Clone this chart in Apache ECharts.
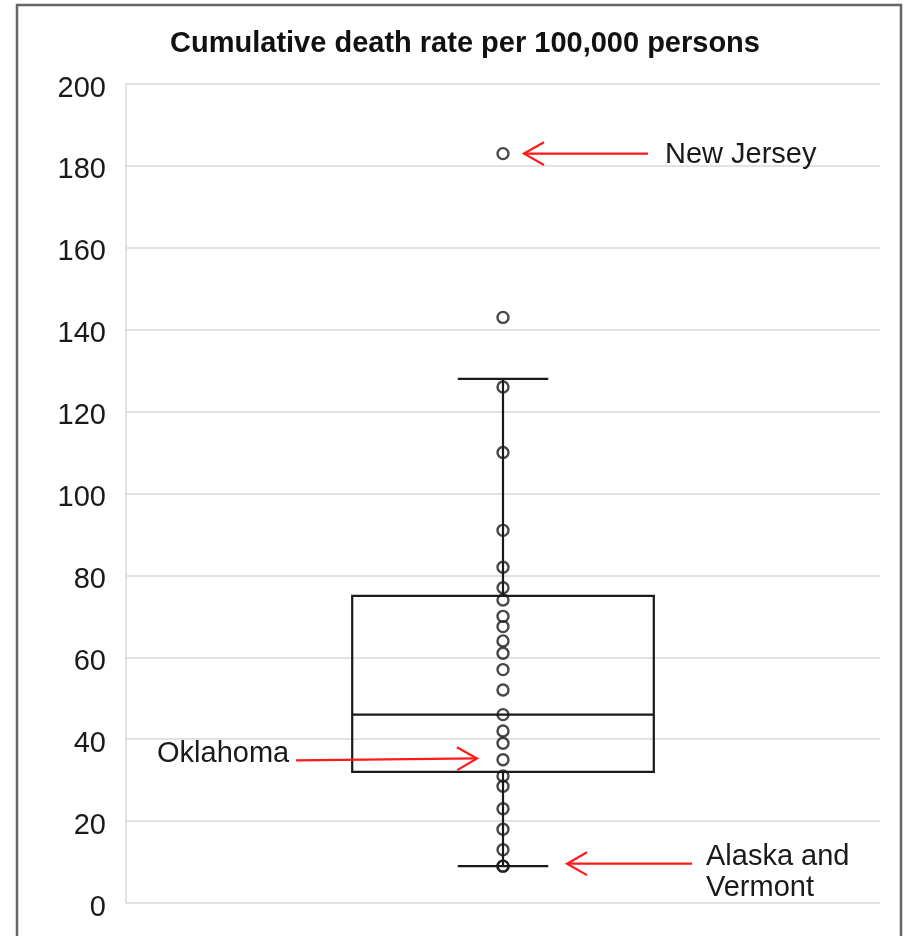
<!DOCTYPE html>
<html>
<head>
<meta charset="utf-8">
<script src="https://cdn.jsdelivr.net/npm/echarts@6/dist/echarts.min.js"></script>
<style>
html,body{margin:0;padding:0;background:#fff;}
#chart{width:905px;height:936px;}
</style>
</head>
<body>
<div id="chart"></div>
<script>
// ---- data ----
const titleText = 'Cumulative death rate per 100,000 persons';
const categories = ['States'];
const yTicks = [0, 20, 40, 60, 80, 100, 120, 140, 160, 180, 200];
// [lower whisker, Q1, median, Q3, upper whisker]
const boxStats = [9, 32, 46, 75, 128];
const stateRates = [126, 110, 91, 82, 77, 74, 70, 67.5, 64, 61, 57, 52, 46, 42, 39, 35, 31, 28.5, 23, 18, 13, 9, 9];
const outlierRates = [183, 143];
const annotationTexts = ['New Jersey', 'Oklahoma', 'Alaska and\nVermont'];
const annotationValues = [183, 35.3, 9.6];

const chart = echarts.init(document.getElementById('chart'), null, {renderer: 'canvas'});
const FONT = '"Liberation Sans", Arial, sans-serif';

const option = {
  backgroundColor: '#fff',
  animation: false,
  title: {
    text: titleText,
    left: 460,
    textAlign: 'center',
    top: 24,
    textStyle: {fontFamily: FONT, fontSize: 29, fontWeight: 'bold', color: '#111'}
  },
  grid: {left: 126, right: 25, top: 84, bottom: 33},
  xAxis: {
    type: 'category',
    data: categories,
    axisLine: {show: false},
    axisTick: {show: false},
    axisLabel: {show: false},
    splitLine: {show: false}
  },
  yAxis: {
    type: 'value',
    min: yTicks[0],
    max: yTicks[yTicks.length - 1],
    interval: yTicks[1] - yTicks[0],
    axisLine: {show: true, lineStyle: {color: '#d9d9d9', width: 1.5}},
    axisTick: {show: false},
    axisLabel: {
      margin: 20,
      verticalAlign: 'top',
      lineHeight: 9,
      fontFamily: FONT, fontSize: 29, color: '#1a1a1a'
    },
    splitLine: {show: true, lineStyle: {color: '#d9d9d9', width: 1.5}}
  },
  series: [
    {
      type: 'custom',
      z: 2,
      data: [[0].concat(boxStats)],
      renderItem: function (params, api) {
        const xi = api.value(0);
        const lo = api.coord([xi, api.value(1)]);
        const q1 = api.coord([xi, api.value(2)]);
        const md = api.coord([xi, api.value(3)]);
        const q3 = api.coord([xi, api.value(4)]);
        const hi = api.coord([xi, api.value(5)]);
        const band = api.size([1, 0])[0];
        const half = band * 0.2;
        const cap = band * 0.06;
        const cx = lo[0];
        const st = {stroke: '#1a1a1a', lineWidth: 2.2, fill: null};
        return {
          type: 'group',
          children: [
            {type: 'line', shape: {x1: cx, y1: hi[1], x2: cx, y2: q3[1]}, style: st},
            {type: 'line', shape: {x1: cx, y1: q1[1], x2: cx, y2: lo[1]}, style: st},
            {type: 'line', shape: {x1: cx - cap, y1: hi[1], x2: cx + cap, y2: hi[1]}, style: st},
            {type: 'line', shape: {x1: cx - cap, y1: lo[1], x2: cx + cap, y2: lo[1]}, style: st},
            {type: 'rect', shape: {x: cx - half, y: q3[1], width: half * 2, height: q1[1] - q3[1]}, style: {stroke: '#1a1a1a', lineWidth: 2.2, fill: 'transparent'}},
            {type: 'line', shape: {x1: cx - half, y1: md[1], x2: cx + half, y2: md[1]}, style: st}
          ]
        };
      }
    },
    {
      type: 'scatter',
      z: 3,
      symbol: 'circle',
      symbolSize: 11,
      itemStyle: {color: 'transparent', borderColor: '#1a1a1a', borderWidth: 2.4},
      data: stateRates.concat(outlierRates).map(v => [0, v])
    }
  ]
};
chart.setOption(option);

// ---- annotations (red arrows), anchored on data values through the y scale ----
const red = '#ff1a1a';
function yPix(v) { return chart.convertToPixel({yAxisIndex: 0}, v); }
function arrow(x1, y1, x2, y2) {
  const ang = Math.atan2(y2 - y1, x2 - x1);
  const L = 23, a = 0.52;
  const p1 = [x2 - L * Math.cos(ang - a), y2 - L * Math.sin(ang - a)];
  const p2 = [x2 - L * Math.cos(ang + a), y2 - L * Math.sin(ang + a)];
  return [
    {type: 'line', shape: {x1: x1, y1: y1, x2: x2, y2: y2}, style: {stroke: red, lineWidth: 2.2}, z: 10},
    {type: 'polyline', shape: {points: [p1, [x2, y2], p2]}, style: {stroke: red, lineWidth: 2.2, fill: null}, z: 10}
  ];
}
const textStyle = {fontFamily: FONT, fontSize: 29, fill: '#1a1a1a', textVerticalAlign: 'middle'};
const yNJ = yPix(annotationValues[0]);
const yOK = yPix(annotationValues[1]);
const yAK = yPix(annotationValues[2]);
let g = [];
g.push({type: 'rect', shape: {x: 17, y: 5, width: 884, height: 1000}, style: {stroke: '#666', lineWidth: 2.5, fill: null}, z: 20, silent: true});
g = g.concat(arrow(648, yNJ, 524, yNJ));
g.push({type: 'text', x: 665, y: yNJ + 1, style: Object.assign({text: annotationTexts[0]}, textStyle), z: 10});
g = g.concat(arrow(296, yOK + 2, 477, yOK));
g.push({type: 'text', x: 157, y: yOK - 4, style: Object.assign({text: annotationTexts[1]}, textStyle), z: 10});
g = g.concat(arrow(692, yAK, 567, yAK));
g.push({type: 'text', x: 706, y: yAK + 9, style: Object.assign({text: annotationTexts[2], lineHeight: 31}, textStyle), z: 10});
chart.setOption({graphic: {elements: g}});
</script>
</body>
</html>
